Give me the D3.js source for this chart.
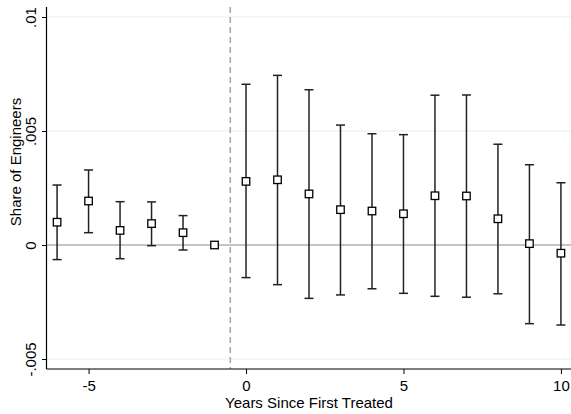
<!DOCTYPE html>
<html>
<head>
<meta charset="utf-8">
<script src="https://cdn.jsdelivr.net/npm/d3@7"></script>
<style>
  body { margin: 0; background: #fff; }
  svg { display: block; }
  text { font-family: "Liberation Sans", Arial, Helvetica, sans-serif; fill: #000; }
</style>
</head>
<body>
<div id="chart"></div>
<script>
// Event-study estimates
const years = [-6, -5, -4, -3, -2, -1, 0, 1, 2, 3, 4, 5, 6, 7, 8, 9, 10];
const coef = [0.00100, 0.00193, 0.00064, 0.00094, 0.00054, 0, 0.00279, 0.00286, 0.00224,
  0.00155, 0.00149, 0.00137, 0.00216, 0.00215, 0.00115, 0.00006, -0.00036];
const ciLow = [-0.00064, 0.00054, -0.00060, -0.00003, -0.00022, 0, -0.00143, -0.00174, -0.00234,
  -0.00219, -0.00192, -0.00212, -0.00225, -0.00229, -0.00214, -0.00345, -0.00351];
const ciHigh = [0.00263, 0.00329, 0.00190, 0.00189, 0.00129, 0, 0.00705, 0.00744, 0.00681,
  0.00526, 0.00488, 0.00484, 0.00657, 0.00658, 0.00442, 0.00352, 0.00273];

const xTicks = [-5, 0, 5, 10];
const xTickLabels = ["-5", "0", "5", "10"];
const yTicks = [-0.005, 0, 0.005, 0.01];
const yTickLabels = ["-.005", "0", ".005", ".01"];
const treatLine = -0.5;

const width = 571, height = 414;
const margin = { top: 7, right: 0, bottom: 45, left: 47 };
const fontSize = 15;

const svg = d3.select('#chart').append('svg')
  .attr('width', width)
  .attr('height', height);

// scales
const x = d3.scaleLinear()
  .domain([-6.32, 10.32])
  .range([margin.left, width - margin.right]);

const y = d3.scaleLinear()
  .domain([-0.005, 0.01])
  .range([359, 17]);

const plotBottom = height - margin.bottom; // 369
const plotTop = margin.top;

// grid lines (skip zero, it gets its own line)
svg.append('g')
  .selectAll('line')
  .data(yTicks.filter(d => d !== 0))
  .enter()
  .append('line')
  .attr('x1', margin.left)
  .attr('x2', width)
  .attr('y1', d => y(d))
  .attr('y2', d => y(d))
  .attr('stroke', '#e6eef1')
  .attr('stroke-width', 1);

// zero line
svg.append('line')
  .attr('x1', margin.left)
  .attr('x2', width)
  .attr('y1', y(0))
  .attr('y2', y(0))
  .attr('stroke', '#8a8a8a')
  .attr('stroke-width', 1.2);

// treatment line
svg.append('line')
  .attr('x1', x(treatLine))
  .attr('x2', x(treatLine))
  .attr('y1', plotTop)
  .attr('y2', plotBottom)
  .attr('stroke', '#a8a8a8')
  .attr('stroke-width', 1.6)
  .attr('stroke-dasharray', '6,4');

// y axis
const yAxis = d3.axisLeft(y)
  .tickValues(yTicks)
  .tickSize(5)
  .tickFormat((d, i) => yTickLabels[i]);

const gy = svg.append('g')
  .attr('transform', `translate(${margin.left},0)`)
  .call(yAxis);
gy.select('.domain').attr('d', `M-0.5,${plotTop}V${plotBottom}`).attr('stroke', '#000').attr('stroke-width', 1.2);
gy.selectAll('.tick line').attr('stroke', '#000').attr('stroke-width', 1);
gy.selectAll('.tick text')
  .attr('font-size', fontSize)
  .attr('text-anchor', 'middle')
  .attr('x', 0)
  .attr('dy', 0)
  .attr('transform', 'translate(-11.5,0) rotate(-90)');

// x axis
const xAxis = d3.axisBottom(x)
  .tickValues(xTicks)
  .tickSize(5)
  .tickFormat((d, i) => xTickLabels[i]);

const gx = svg.append('g')
  .attr('transform', `translate(0,${plotBottom})`)
  .call(xAxis);
gx.select('.domain').attr('d', `M${margin.left - 0.5},0H${width}`).attr('stroke', '#000').attr('stroke-width', 1.2);
gx.selectAll('.tick line').attr('stroke', '#000').attr('stroke-width', 1);
gx.selectAll('.tick text')
  .attr('font-size', fontSize)
  .attr('y', 22)
  .attr('dy', 0);

// axis titles
svg.append('text')
  .attr('x', (margin.left + width) / 2)
  .attr('y', 408)
  .attr('text-anchor', 'middle')
  .attr('font-size', fontSize)
  .text('Years Since First Treated');

svg.append('text')
  .attr('transform', 'translate(20.5,162) rotate(-90)')
  .attr('text-anchor', 'middle')
  .attr('font-size', fontSize)
  .text('Share of Engineers');

// error bars
const data = years.map((yr, i) => ({ yr, b: coef[i], lo: ciLow[i], hi: ciHigh[i] }));
const bars = svg.append('g').selectAll('g')
  .data(data.filter(d => d.hi !== d.lo))
  .enter()
  .append('g')
  .attr('stroke', '#222')
  .attr('stroke-width', 1.5);

const capW = 4.5;
bars.append('line')
  .attr('x1', d => x(d.yr)).attr('x2', d => x(d.yr))
  .attr('y1', d => y(d.lo)).attr('y2', d => y(d.hi));
bars.append('line')
  .attr('x1', d => x(d.yr) - capW).attr('x2', d => x(d.yr) + capW)
  .attr('y1', d => y(d.hi)).attr('y2', d => y(d.hi));
bars.append('line')
  .attr('x1', d => x(d.yr) - capW).attr('x2', d => x(d.yr) + capW)
  .attr('y1', d => y(d.lo)).attr('y2', d => y(d.lo));

// markers: hollow squares
const sq = 7.5;
svg.append('g').selectAll('rect')
  .data(data)
  .enter()
  .append('rect')
  .attr('x', d => x(d.yr) - sq / 2)
  .attr('y', d => y(d.b) - sq / 2)
  .attr('width', sq)
  .attr('height', sq)
  .attr('fill', '#fff')
  .attr('stroke', '#000')
  .attr('stroke-width', 1.3);
</script>
</body>
</html>
